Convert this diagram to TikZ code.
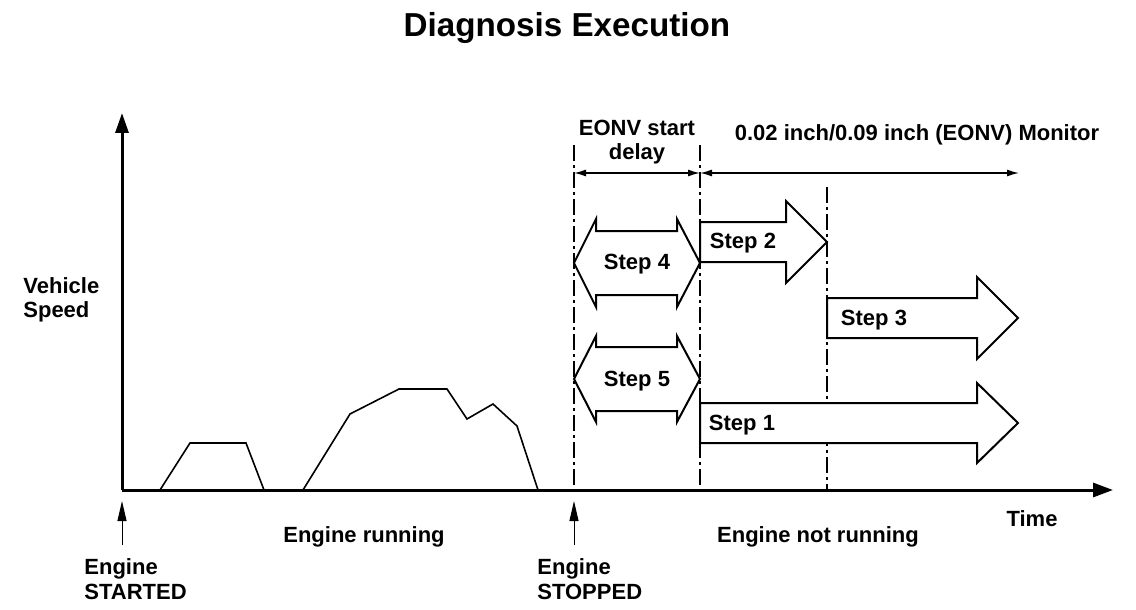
\documentclass[tikz,border=0pt]{standalone}
\usepackage{fontspec}
\setmainfont{Liberation Sans}
\usetikzlibrary{arrows.meta,positioning}
\tikzset{
  lbl/.style={font=\fontsize{11}{12.3}\selectfont\bfseries, inner sep=0pt},
  stepshape/.style={draw=black, fill=white, line width=1pt, line join=miter},
  guide/.style={line width=0.8pt, dash pattern=on 8pt off 2pt on 1.5pt off 2pt},
  dim/.style={line width=0.7pt, {Latex[length=6pt,width=3.5pt]}-{Latex[length=6pt,width=3.5pt]}},
  event/.style={line width=0.5pt, -{Triangle[length=10pt,width=4.5pt]}}
}
\begin{document}
\begin{tikzpicture}[x=0.5pt,y=-0.5pt]
\useasboundingbox (0,0) rectangle (1136,610);

% axes
\coordinate (origin) at (122,490);
\coordinate (ytip) at (122,113);
\coordinate (xtip) at (1113,490);
\draw[line width=1.5pt, -{Triangle[length=10pt,width=6.5pt]}] (origin) -- (ytip);
\draw[line width=1.5pt, -{Triangle[length=10pt,width=7pt]}] (origin) -- (xtip);

% speed profile
\draw[line width=0.8pt, line join=miter] (160,490) -- (190,443) -- (246,443) -- (264,490);
\draw[line width=0.8pt, line join=miter] (303,490) -- (350,414) -- (399,389) -- (447,389)
  -- (467,419) -- (493,404) -- (517,426) -- (538,490);

% dash-dot markers
\coordinate (stopT) at (574,145);
\coordinate (stopB) at (574,490);
\coordinate (monT) at (700,145);
\coordinate (monB) at (700,490);
\coordinate (s3T) at (827,187);
\coordinate (s3B) at (827,490);
\draw[guide] (stopT) -- (stopB);
\draw[guide] (monT) -- (monB);
\draw[guide] (s3T) -- (s3B);

% dimension lines
\coordinate (dimA) at (574,173);
\coordinate (dimB) at (700,173);
\coordinate (dimC) at (1019,173);
\draw[dim] (dimA) -- (dimB);
\draw[dim] (dimB) -- (dimC);

% step arrows
\draw[stepshape] (574,263) -- (596,219) -- (596,231) -- (677,231) -- (677,219) -- (700,263)
  -- (677,307) -- (677,295) -- (596,295) -- (596,307) -- cycle;
\draw[stepshape] (574,379) -- (596,336) -- (596,347) -- (677,347) -- (677,336) -- (700,379)
  -- (677,422) -- (677,411) -- (596,411) -- (596,422) -- cycle;
\draw[stepshape] (700,222) -- (786,222) -- (786,201) -- (827,242) -- (786,283) -- (786,262)
  -- (700,262) -- cycle;
\draw[stepshape] (827,298) -- (977,298) -- (977,277) -- (1018,318) -- (977,359) -- (977,338)
  -- (827,338) -- cycle;
\draw[stepshape] (700,403) -- (977,403) -- (977,383) -- (1018,423) -- (977,463) -- (977,443)
  -- (700,443) -- cycle;

\node[lbl] (step4) at (637,264) {Step 4};
\node[lbl] (step5) at (637,381) {Step 5};
\node[lbl] (step2) at (743,243) {Step 2};
\node[lbl] (step3) at (874,320) {Step 3};
\node[lbl] (step1) at (742,425) {Step 1};

% labels
\node[font=\fontsize{16.6}{19}\selectfont\bfseries, inner sep=0pt] (title) at (567,28) {Diagnosis Execution};
\node[lbl, align=left, anchor=west] (speed) at (23,300) {Vehicle\\Speed};
\node[lbl, align=center] (delay) at (637,142) {EONV start\\delay};
\node[lbl] (monitor) at (917,135) {0.02 inch/0.09 inch (EONV) Monitor};
\node[lbl] (time) at (1032,519) {Time};
\node[lbl] (running) at (364,537) {Engine running};
\node[lbl] (notrunning) at (818,537) {Engine not running};
\node[lbl, align=left, anchor=west] (started) at (84,579) {Engine\\STARTED};
\node[lbl, align=left, anchor=west] (stopped) at (537,579) {Engine\\STOPPED};

% event arrows
\coordinate (startA) at (122,545);
\coordinate (startB) at (122,501);
\coordinate (stopA) at (574,545);
\coordinate (stopC) at (574,501);
\draw[event] (startA) -- (startB);
\draw[event] (stopA) -- (stopC);
\end{tikzpicture}
\end{document}
